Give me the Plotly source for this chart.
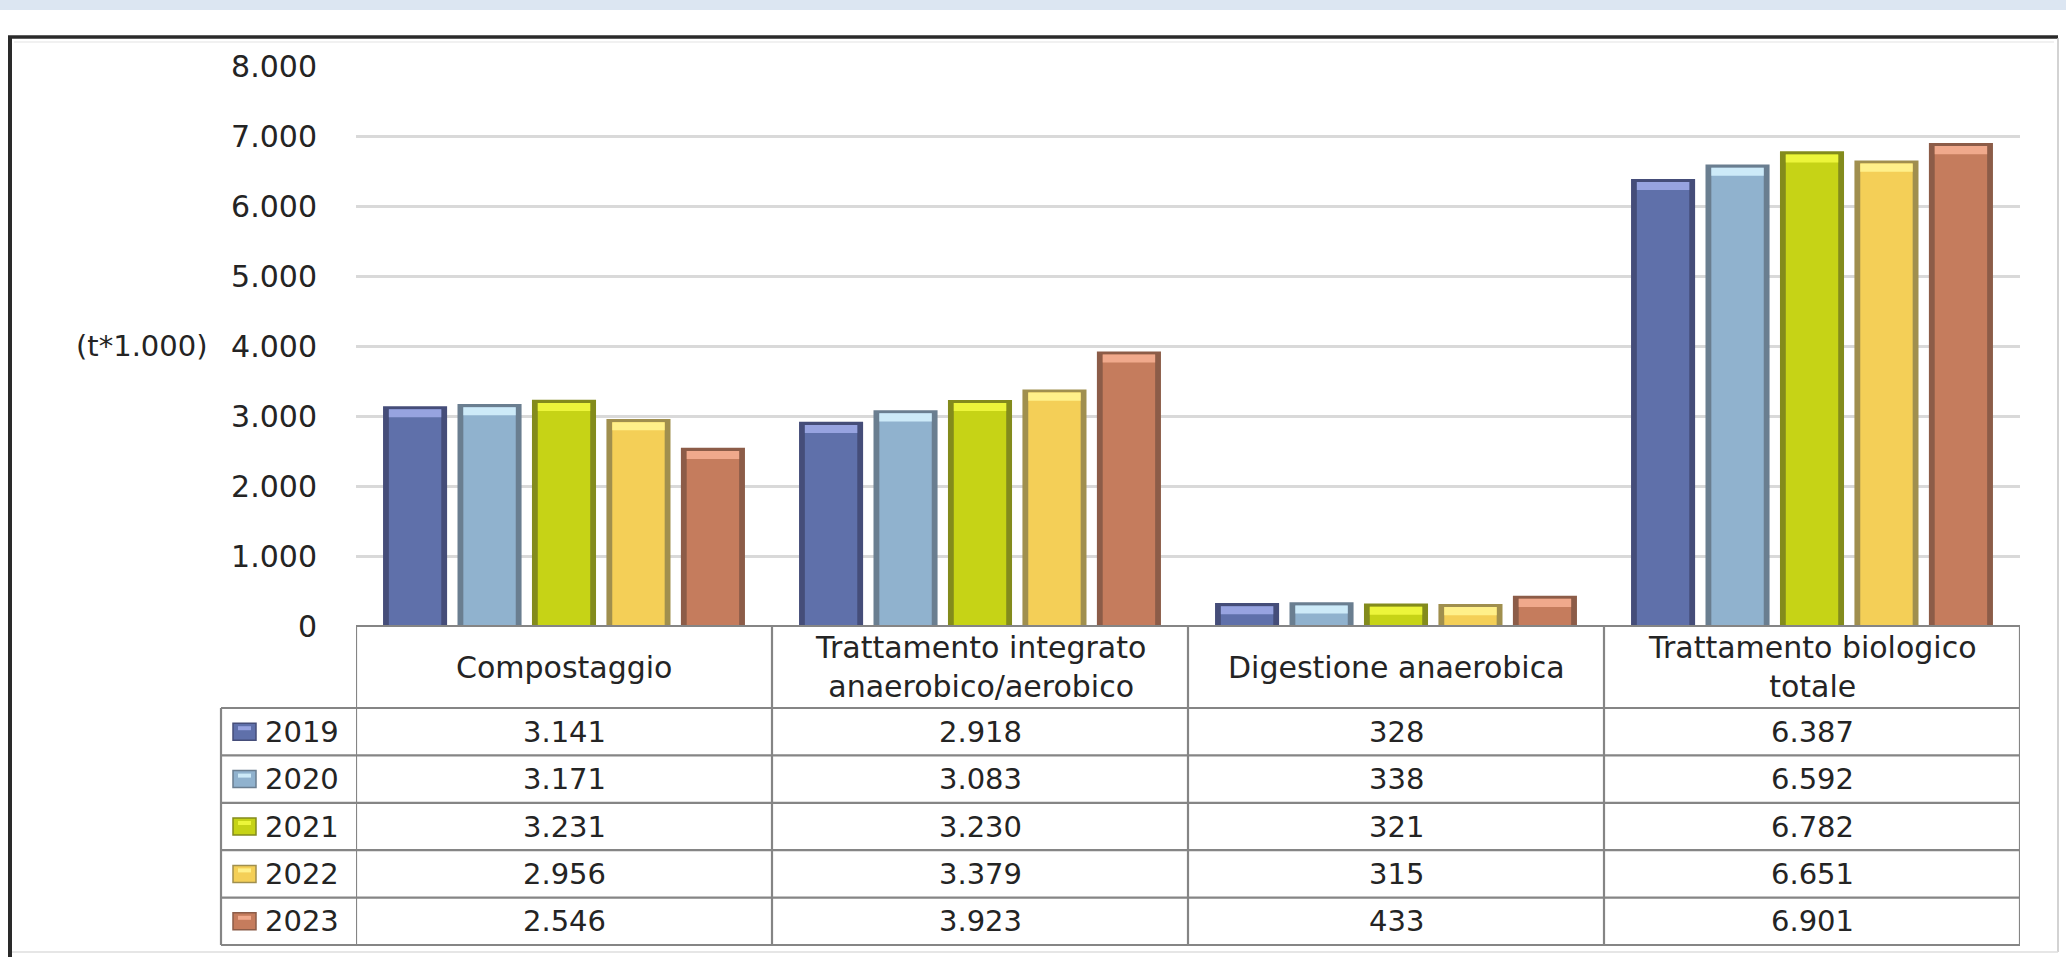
import plotly.graph_objects as go

# Trattamento biologico dei rifiuti organici (migliaia di tonnellate)
categories = [
    "Compostaggio",
    "Trattamento integrato<br>anaerobico/aerobico",
    "Digestione anaerobica",
    "Trattamento biologico<br>totale",
]
years = ["2019", "2020", "2021", "2022", "2023"]
values_2019 = [3141, 2918, 328, 6387]
values_2020 = [3171, 3083, 338, 6592]
values_2021 = [3231, 3230, 321, 6782]
values_2022 = [2956, 3379, 315, 6651]
values_2023 = [2546, 3923, 433, 6901]
series = [values_2019, values_2020, values_2021, values_2022, values_2023]

y_ticks = [0, 1000, 2000, 3000, 4000, 5000, 6000, 7000, 8000]
unit_label = "(t*1.000)"

edge_colors = ["#454d79", "#6a7e90", "#838b1c", "#a08f4e", "#8c5c48"]
fill_colors = ["#5f70aa", "#90b2ce", "#c6d316", "#f4cf57", "#c57c5d"]
cap_colors = ["#97a3e0", "#cdeaf8", "#ecf53a", "#fff08a", "#f0a98c"]

W, H = 2066, 957
FONT = "DejaVu Sans"
TEXT = "#242424"
GRID = "#858585"


def px(xp):
    return xp / W


def py(yp):
    return 1 - yp / H


def it_num(v):
    return f"{v:,}".replace(",", ".")


# bar layout inside each category (category units)
group_w = 0.895
slot_w = group_w / len(years)
bar_w = 0.154
inner_w = 0.126
rim = 45        # dark top rim, in value units
cap_h = 115     # light cap below the rim, in value units

xs = list(range(len(categories)))
fig = go.Figure()
layers = []
for i, vals in enumerate(series):
    left = -group_w / 2 + i * slot_w + (slot_w - bar_w) / 2
    inner_left = left + (bar_w - inner_w) / 2
    # outer body with dark edges
    layers.append((0, go.Bar(x=xs, y=vals, width=bar_w, offset=left, name=years[i],
                             marker=dict(color=edge_colors[i], line=dict(width=0)))))
    # lighter inner body
    layers.append((1, go.Bar(x=xs, y=[v - rim for v in vals], width=inner_w, offset=inner_left,
                             marker=dict(color=fill_colors[i], line=dict(width=0)),
                             hoverinfo="skip")))
    # glossy cap at the top of the bar
    layers.append((2, go.Bar(x=xs, y=[cap_h] * len(vals), base=[v - rim - cap_h for v in vals],
                             width=inner_w, offset=inner_left,
                             marker=dict(color=cap_colors[i], line=dict(width=0)),
                             hoverinfo="skip")))
for _, tr in sorted(layers, key=lambda t: t[0]):
    fig.add_trace(tr)

# table geometry (pixels)
plot_left, plot_right = 356, 2020
axis_y0, axis_y8 = 626, 66
header_bottom = 708
row_h = 47.4
legend_left = 221
rows_y = [header_bottom + i * row_h for i in range(len(years) + 1)]

shapes = []
# light band at top of page
shapes.append(dict(type="rect", xref="paper", yref="paper", x0=0, x1=1,
                   y0=py(10), y1=1, fillcolor="#dce6f2", line=dict(width=0), layer="below"))
# outer frame
shapes.append(dict(type="line", xref="paper", yref="paper", x0=px(8), x1=px(2058),
                   y0=py(37), y1=py(37), line=dict(color="#2a2a2a", width=3.5)))
shapes.append(dict(type="line", xref="paper", yref="paper", x0=px(10), x1=px(10),
                   y0=py(36), y1=0, line=dict(color="#2a2a2a", width=4)))
shapes.append(dict(type="line", xref="paper", yref="paper", x0=px(2058), x1=px(2058),
                   y0=py(38), y1=py(952), line=dict(color="#c4c4c4", width=1.5)))
shapes.append(dict(type="line", xref="paper", yref="paper", x0=px(12), x1=px(2058),
                   y0=py(952), y1=py(952), line=dict(color="#dedede", width=1.5)))
shapes.append(dict(type="line", xref="paper", yref="paper", x0=px(14), x1=px(2054),
                   y0=py(42), y1=py(42), line=dict(color="#ececec", width=1.5)))

line_style = dict(color=GRID, width=2.2)
# horizontal table lines
shapes.append(dict(type="line", xref="paper", yref="paper", x0=px(plot_left), x1=px(plot_right),
                   y0=py(axis_y0), y1=py(axis_y0), line=line_style))
for yy in rows_y:
    shapes.append(dict(type="line", xref="paper", yref="paper", x0=px(legend_left), x1=px(plot_right),
                       y0=py(yy), y1=py(yy), line=line_style))
# vertical table lines along category boundaries
for k in range(len(categories) + 1):
    shapes.append(dict(type="line", xref="x", yref="paper", x0=k - 0.5, x1=k - 0.5,
                       y0=py(axis_y0), y1=py(rows_y[-1]), line=line_style))
shapes.append(dict(type="line", xref="paper", yref="paper", x0=px(legend_left), x1=px(legend_left),
                   y0=py(header_bottom), y1=py(rows_y[-1]), line=line_style))

annotations = []
# column headers
for k, cat in enumerate(categories):
    annotations.append(dict(x=k, xref="x", y=py((axis_y0 + header_bottom) / 2), yref="paper",
                            text=cat, showarrow=False, font=dict(family=FONT, size=30, color=TEXT),
                            xanchor="center", yanchor="middle", align="center"))
# rows: legend key, year and values
for i, (year, vals) in enumerate(zip(years, series)):
    yc = py(rows_y[i] + row_h / 2)
    shapes.append(dict(type="rect", xref="paper", yref="paper", x0=px(233), x1=px(256),
                       y0=yc - 8.5 / H, y1=yc + 8.5 / H, fillcolor=fill_colors[i],
                       line=dict(color=edge_colors[i], width=1.5)))
    shapes.append(dict(type="rect", xref="paper", yref="paper", x0=px(238), x1=px(251),
                       y0=yc + 1.5 / H, y1=yc + 5.5 / H, fillcolor=cap_colors[i],
                       line=dict(width=0)))
    annotations.append(dict(x=px(263), xref="paper", y=yc, yref="paper", text=year,
                            showarrow=False, xanchor="left", yanchor="middle",
                            font=dict(family=FONT, size=29, color=TEXT)))
    for k, v in enumerate(vals):
        annotations.append(dict(x=k, xref="x", y=yc, yref="paper", text=it_num(v),
                                showarrow=False, xanchor="center", yanchor="middle",
                                font=dict(family=FONT, size=29, color=TEXT)))
# unit label next to the value axis
annotations.append(dict(x=px(210), xref="paper", y=4000, yref="y", text=unit_label,
                        showarrow=False, xanchor="right", yanchor="middle",
                        font=dict(family=FONT, size=29, color=TEXT)))

fig.update_layout(
    width=W, height=H,
    margin=dict(l=0, r=0, t=0, b=0, autoexpand=False),
    paper_bgcolor="white", plot_bgcolor="white",
    barmode="overlay",
    showlegend=False,
    separators=",.",
    xaxis=dict(domain=[px(plot_left), px(plot_right)], range=[-0.5, len(categories) - 0.5],
               showticklabels=False, showgrid=False, zeroline=False, showline=False, ticks="",
               automargin=False),
    yaxis=dict(domain=[py(axis_y0), py(axis_y8)], range=[0, 8000], tickvals=y_ticks,
               tickformat=",d", showgrid=True, gridcolor="#d9d9d9", gridwidth=2.5,
               zeroline=False, showline=False, ticks="", ticklabelstandoff=38,
               automargin=False,
               tickfont=dict(family=FONT, size=30, color=TEXT)),
    shapes=shapes,
    annotations=annotations,
)

fig.write_html("out.html")
